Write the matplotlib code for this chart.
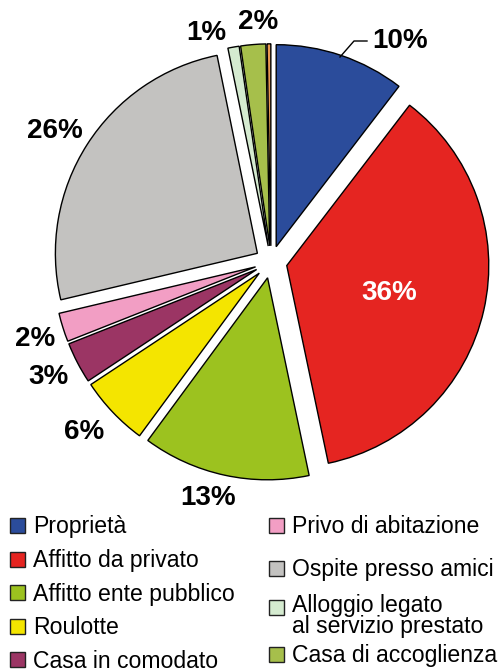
import matplotlib.pyplot as plt
from matplotlib.patches import Rectangle

plt.rcParams['font.family'] = ['Liberation Sans', 'DejaVu Sans']

# dati
categorie = ["Proprietà", "Affitto da privato", "Affitto ente pubblico", "Roulotte",
             "Casa in comodato", "Privo di abitazione", "Ospite presso amici",
             "Alloggio legato\nal servizio prestato", "Casa di accoglienza", "Altro"]
valori = [10.4, 36.3, 13.4, 5.6, 3.3, 2.3, 25.5, 0.9, 2.0, 0.3]
etichette = ["10%", "36%", "13%", "6%", "3%", "2%", "26%", "1%", "2%", ""]
colori = ["#2B4C9B", "#E52521", "#9CC21F", "#F4E500", "#9B3564", "#F29EC4",
          "#C3C2C0", "#D5EBD0", "#A6BF4B", "#E89A50"]

fig = plt.figure(figsize=(5.03, 6.72), dpi=100)
ax = fig.add_axes([0, 0, 1, 1])

# torta in coordinate pixel (explode in unita' assolute)
cx, cy, r = 271, 672 - 262, 202
wedges, _ = ax.pie(valori, colors=colori, startangle=90, counterclock=False,
                   explode=[0.08 * r] * len(valori), radius=r, center=(cx, cy),
                   wedgeprops=dict(edgecolor='black', linewidth=1.0))
ax.set_xlim(0, 503)
ax.set_ylim(0, 672)
ax.set_aspect('equal')
ax.axis('off')

# posizioni delle etichette (pixel dall'alto)
pos = [(400, 41), (389, 293), (208, 498), (84, 432), (48, 377),
       (35, 339), (55, 131), (206, 33), (258, 22), None]
for lab, p in zip(etichette, pos):
    if p is None:
        continue
    col = 'white' if lab == "36%" else 'black'
    ax.text(p[0], 672 - p[1], lab, fontsize=20, fontweight='bold', color=col,
            ha='center', va='center')

# linea guida per 10%
ax.plot([340, 354, 367], [672 - 57, 672 - 41, 672 - 41], color='black', lw=1.0)

# legenda manuale: (x quadrato, centro quadrato, linea di base del testo)
righe = [(10, 525, 533.4), (10, 559, 567.4), (10, 592.5, 601), (10, 626, 634.4),
         (10, 659.5, 668), (269, 525, 533.4), (269, 568, 576.4), (269, 607, 612),
         (269, 654, 662.4)]
for i, (x, yc, yb) in enumerate(righe):
    ax.add_patch(Rectangle((x, 672 - yc - 7.5), 15, 15, facecolor=colori[i],
                           edgecolor='#222222', lw=1.0))
    for k, riga in enumerate(categorie[i].split("\n")):
        ax.text(x + 23, 672 - yb - 21 * k, riga, fontsize=16.6, ha='left',
                va='baseline')

fig.savefig("out.png", dpi=100)
